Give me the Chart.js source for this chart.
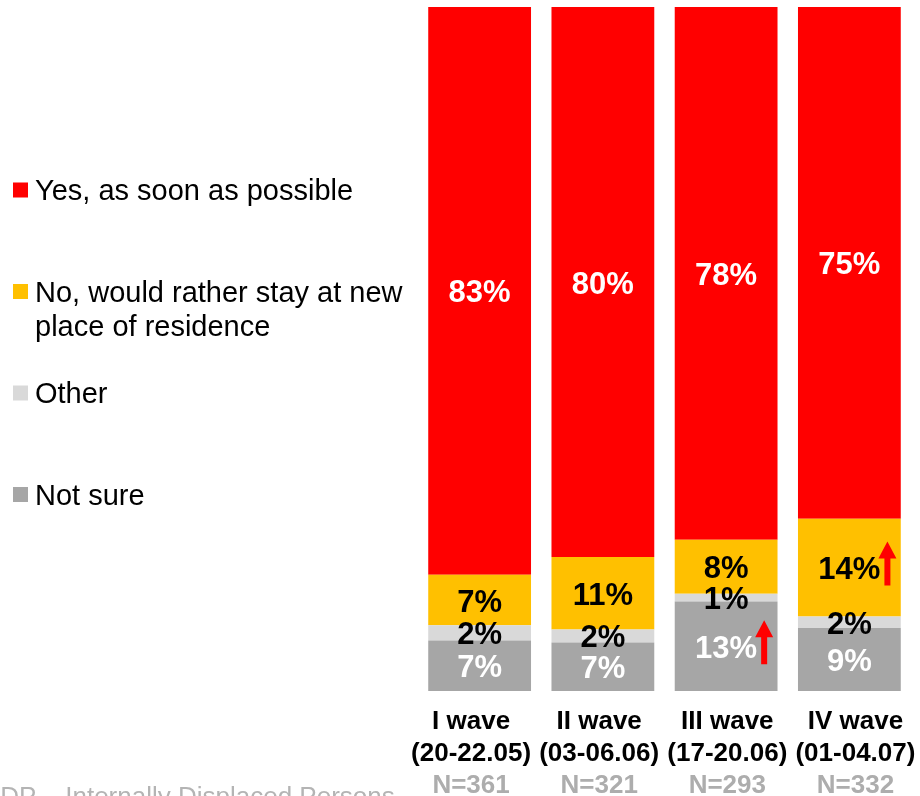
<!DOCTYPE html>
<html>
<head>
<meta charset="utf-8">
<script src="https://cdn.jsdelivr.net/npm/chart.js@4.4.0/dist/chart.umd.min.js"></script>
<style>
  html, body { margin: 0; padding: 0; background: #ffffff; overflow: hidden; }
  #wrap { position: relative; width: 920px; height: 796px; }
</style>
</head>
<body>
<div id="wrap"><canvas id="chart"></canvas></div>
<script>
// Survey waves (x axis) and sample sizes
const waves = [
  ["I wave", "(20-22.05)"],
  ["II wave", "(03-06.06)"],
  ["III wave", "(17-20.06)"],
  ["IV wave", "(01-04.07)"]
];
const sampleSizes = ["N=361", "N=321", "N=293", "N=332"];

// Shares of answers, % of respondents in each wave
const yesSoon  = [83.0, 80.4, 77.9, 74.8];
const stayNew  = [7.4, 10.6, 7.9, 14.3];
const other    = [2.2, 1.9, 1.1, 1.7];
const notSure  = [7.4, 7.1, 13.1, 9.2];

const seriesNames = [
  "Yes, as soon as possible",
  "No, would rather stay at new place of residence",
  "Other",
  "Not sure"
];

// Significant increases compared with the previous wave
const increases = [
  { wave: 2, series: "Not sure" },
  { wave: 3, series: "No, would rather stay at new place of residence" }
];

const footnote = "IDP \u2013 Internally Displaced Persons";

const FONT = '"Liberation Sans", Arial, Helvetica, sans-serif';

// Percent labels centred in each segment
const segmentLabels = {
  id: 'segmentLabels',
  afterDatasetsDraw(chart) {
    const ctx = chart.ctx;
    ctx.save();
    ctx.font = 'bold 31px ' + FONT;
    ctx.textAlign = 'center';
    ctx.textBaseline = 'middle';
    chart.data.datasets.forEach((ds, di) => {
      const meta = chart.getDatasetMeta(di);
      meta.data.forEach((bar, i) => {
        const p = bar.getProps(['x', 'y', 'base'], true);
        ctx.fillStyle = ds.labelColor;
        ctx.fillText(Math.round(ds.data[i]) + '%', p.x, (p.y + p.base) / 2 + 3);
      });
    });
    // up arrows marking increases
    increases.forEach(inc => {
      const di = chart.data.datasets.findIndex(d => d.label === inc.series);
      const bar = chart.getDatasetMeta(di).data[inc.wave];
      const p = bar.getProps(['x', 'y', 'base', 'width'], true);
      const cx = p.x + p.width * 0.37;
      const cy = (p.y + p.base) / 2 - 4;
      const len = 44, headH = 17, headW = 18, shaftW = 6;
      const top = cy - len / 2, bottom = cy + len / 2;
      ctx.fillStyle = '#FF0000';
      ctx.beginPath();
      ctx.moveTo(cx, top);
      ctx.lineTo(cx + headW / 2, top + headH);
      ctx.lineTo(cx + shaftW / 2, top + headH);
      ctx.lineTo(cx + shaftW / 2, bottom);
      ctx.lineTo(cx - shaftW / 2, bottom);
      ctx.lineTo(cx - shaftW / 2, top + headH);
      ctx.lineTo(cx - headW / 2, top + headH);
      ctx.closePath();
      ctx.fill();
    });
    ctx.restore();
  }
};

// The wave / sample-size captions sit on a slightly wider band than the bars
const captionSpread = {
  id: 'captionSpread',
  afterLayout(chart) {
    const area = chart.chartArea;
    ['xW', 'xN'].forEach(id => {
      const s = chart.scales[id];
      s.left = area.left - 11;
      s.right = area.right + 8.5;
      s.width = s.right - s.left;
      s.configure();
    });
  }
};

// Legend on the left, top series first, plus the footnote
const sideLegend = {
  id: 'sideLegend',
  afterDraw(chart) {
    const ctx = chart.ctx;
    ctx.save();
    ctx.font = '29px ' + FONT;
    ctx.textAlign = 'left';
    ctx.textBaseline = 'alphabetic';
    const items = chart.data.datasets.slice().reverse();
    const maxW = 380;
    items.forEach((ds, k) => {
      const cy = 190 + k * 101.5;
      ctx.fillStyle = ds.backgroundColor;
      ctx.fillRect(13, cy - 7.5, 15, 15);
      // simple word wrap
      const words = ds.label.split(' ');
      const lines = [];
      let line = '';
      words.forEach(w => {
        const t = line ? line + ' ' + w : w;
        if (ctx.measureText(t).width > maxW && line) { lines.push(line); line = w; }
        else line = t;
      });
      lines.push(line);
      ctx.fillStyle = '#000000';
      lines.forEach((l, j) => ctx.fillText(l, 35, cy + 10 + j * 34));
    });
    ctx.font = '26px ' + FONT;
    ctx.fillStyle = '#B4B4B4';
    ctx.fillText(footnote, -7, 805);
    ctx.restore();
  }
};

function captionAxis(labels, color, weight, padding, height) {
  return {
    type: 'category',
    position: 'bottom',
    labels: labels,
    offset: true,
    weight: weight,
    grid: { display: false, drawTicks: false },
    border: { display: false },
    ticks: {
      color: color,
      font: { family: FONT, size: 26, weight: 'bold', lineHeight: 32 / 26 },
      padding: padding,
      maxRotation: 0,
      autoSkip: false
    },
    afterFit(scale) {
      scale.height = height;
      scale.paddingLeft = 0;
      scale.paddingRight = 0;
    }
  };
}

const ctx = document.getElementById('chart').getContext('2d');
new Chart(ctx, {
  type: 'bar',
  data: {
    labels: waves,
    datasets: [
      { label: seriesNames[3], data: notSure, backgroundColor: '#A6A6A6', labelColor: '#FFFFFF' },
      { label: seriesNames[2], data: other,   backgroundColor: '#D9D9D9', labelColor: '#000000' },
      { label: seriesNames[1], data: stayNew, backgroundColor: '#FFC000', labelColor: '#000000' },
      { label: seriesNames[0], data: yesSoon, backgroundColor: '#FF0000', labelColor: '#FFFFFF' }
    ]
  },
  options: {
    responsive: true,
    maintainAspectRatio: false,
    animation: false,
    events: [],
    layout: { padding: { left: 418, right: 9, top: 7, bottom: 0 } },
    datasets: { bar: { barPercentage: 1, categoryPercentage: 0.834, borderWidth: 0 } },
    plugins: { legend: { display: false }, tooltip: { enabled: false }, title: { display: false } },
    scales: {
      y: { stacked: true, min: 0, max: 100, display: false },
      x: { stacked: true, offset: true, display: false },
      xW: captionAxis(waves, '#000000', 1, 15, 79),
      xN: captionAxis(sampleSizes, '#ADADAD', 2, 0, 26)
    }
  },
  plugins: [segmentLabels, captionSpread, sideLegend]
});
</script>
</body>
</html>
